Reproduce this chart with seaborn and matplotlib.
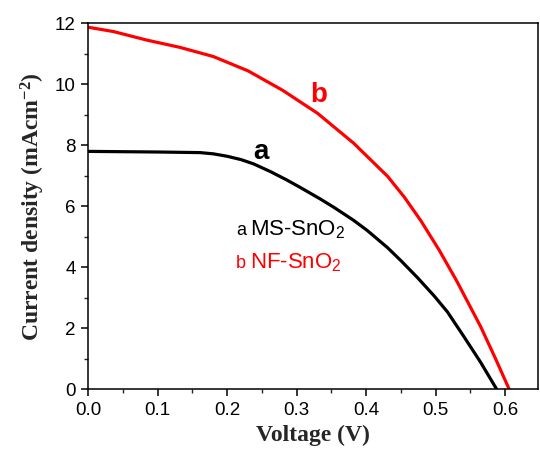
import pandas as pd
import matplotlib
matplotlib.use("Agg")
import matplotlib.pyplot as plt
from matplotlib.ticker import MultipleLocator, FormatStrFormatter
import seaborn as sns

# J-V curves
voltage_a = [0.0, 0.05, 0.1, 0.161, 0.18, 0.2, 0.22, 0.238, 0.262, 0.286, 0.305,
             0.334, 0.354, 0.382, 0.402, 0.431, 0.45, 0.474, 0.498, 0.517,
             0.541, 0.565, 0.588]
current_a = [7.80, 7.79, 7.78, 7.76, 7.72, 7.64, 7.53, 7.39, 7.14, 6.86, 6.62,
             6.24, 5.96, 5.54, 5.20, 4.64, 4.22, 3.66, 3.06, 2.54,
             1.72, 0.88, 0.0]

voltage_b = [0.0, 0.036, 0.084, 0.132, 0.18, 0.23, 0.28, 0.33, 0.382, 0.431,
             0.455, 0.479, 0.505, 0.53, 0.565, 0.586, 0.606]
current_b = [11.87, 11.73, 11.45, 11.21, 10.91, 10.44, 9.80, 9.05, 8.07, 6.98,
             6.30, 5.52, 4.57, 3.57, 2.05, 1.02, 0.0]

samples = ["MS-SnO$_2$", "NF-SnO$_2$"]
letters = ["a", "b"]
colors = ["black", "#ff0000"]

df = pd.concat([
    pd.DataFrame({"V": voltage_a, "J": current_a, "sample": samples[0]}),
    pd.DataFrame({"V": voltage_b, "J": current_b, "sample": samples[1]}),
])

sns.set_style("ticks")
plt.rcParams["font.family"] = ["Liberation Sans", "DejaVu Sans"]
plt.rcParams["mathtext.default"] = "regular"

fig = plt.figure(figsize=(5.4, 4.61), dpi=100)
ax = fig.add_axes([0.1635, 0.1555, 0.8335, 0.794])

sns.lineplot(data=df, x="V", y="J", hue="sample", palette=colors,
             estimator=None, sort=False, linewidth=2.3, legend=False, ax=ax)

ax.set_xlim(0, 0.648)
ax.set_ylim(0, 12)
ax.xaxis.set_major_locator(MultipleLocator(0.1))
ax.xaxis.set_minor_locator(MultipleLocator(0.05))
ax.yaxis.set_major_locator(MultipleLocator(2))
ax.yaxis.set_minor_locator(MultipleLocator(1))
ax.xaxis.set_major_formatter(FormatStrFormatter("%.1f"))

for s in ax.spines.values():
    s.set_linewidth(1.1)
    s.set_color("black")
ax.tick_params(which="major", direction="out", length=5, width=1.1,
               labelsize=13.5, colors="black", pad=4)
ax.tick_params(which="minor", direction="out", length=3, width=1.0)

serif = ["Liberation Serif", "DejaVu Serif"]
ax.set_xlabel("Voltage (V)", fontsize=17, fontweight="bold", family=serif, labelpad=4)
ax.set_ylabel("Current density (mAcm$^{-2}$)", fontsize=17, fontweight="bold",
              family=serif, labelpad=6)

# curve labels
ax.text(0.248, 7.78, letters[0], color=colors[0], fontsize=20, fontweight="bold",
        ha="center", va="center")
ax.text(0.331, 9.65, letters[1], color=colors[1], fontsize=20, fontweight="bold",
        ha="center", va="center")

# legend-like text
for i, yb in enumerate([5.06, 3.98]):
    ax.text(0.213, yb, letters[i], color=colors[i], fontsize=13, va="baseline", ha="left")
    ax.text(0.233, yb, samples[i], color=colors[i], fontsize=16, va="baseline", ha="left")

fig.savefig("out.png", dpi=100)
